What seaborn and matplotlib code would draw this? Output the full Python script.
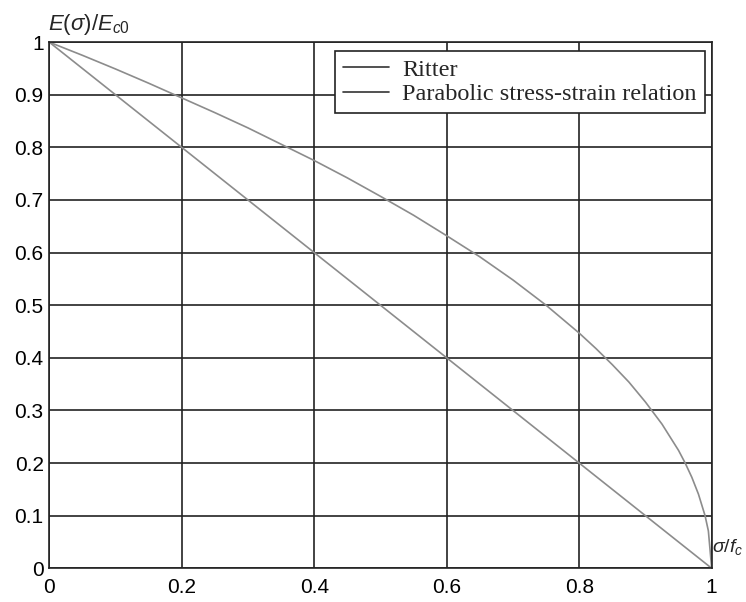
import pandas as pd
import matplotlib.pyplot as plt
import seaborn as sns
from matplotlib.lines import Line2D

# values
stress_ratio = [0, 0.05, 0.1, 0.15, 0.2, 0.25, 0.3, 0.35, 0.4, 0.45, 0.5,
                0.55, 0.6, 0.65, 0.7, 0.75, 0.8, 0.825, 0.85, 0.875, 0.9,
                0.925, 0.95, 0.96, 0.97, 0.98, 0.99, 0.995, 1.0]
ritter = [1, 0.95, 0.9, 0.85, 0.8, 0.75, 0.7, 0.65, 0.6, 0.55, 0.5,
          0.45, 0.4, 0.35, 0.3, 0.25, 0.2, 0.175, 0.15, 0.125, 0.1,
          0.075, 0.05, 0.04, 0.03, 0.02, 0.01, 0.005, 0.0]
parabolic = [1, 0.975, 0.949, 0.922, 0.894, 0.866, 0.837, 0.806, 0.775, 0.742, 0.707,
             0.671, 0.632, 0.592, 0.548, 0.5, 0.447, 0.418, 0.387, 0.354, 0.316,
             0.274, 0.224, 0.2, 0.173, 0.141, 0.1, 0.071, 0.0]

df = pd.DataFrame({'x': stress_ratio, 'Ritter': ritter,
                   'Parabolic stress-strain relation': parabolic})
df_long = df.melt(id_vars='x', var_name='model', value_name='y')

sns.set_style('white')
plt.rcParams['font.family'] = ['Liberation Sans', 'DejaVu Sans']
plt.rcParams['mathtext.fontset'] = 'custom'
plt.rcParams['mathtext.rm'] = 'Liberation Sans'
plt.rcParams['mathtext.it'] = 'Liberation Sans:italic'

fig = plt.figure(figsize=(7.46, 6.02), dpi=100, facecolor='white')
ax = fig.add_axes([0.066, 0.056, 0.888, 0.874])

sns.lineplot(data=df_long, x='x', y='y', hue='model', sort=False,
             palette=['#8c8c8c', '#8c8c8c'], linewidth=1.2, ax=ax, legend=False)

ax.set_xlim(0, 1)
ax.set_ylim(0, 1)
ax.set_xticks([0, 0.2, 0.4, 0.6, 0.8, 1])
ax.set_xticklabels(['0', '0.2', '0.4', '0.6', '0.8', '1'])
ax.set_yticks([i / 10 for i in range(11)])
ax.set_yticklabels(['0'] + [f'{i / 10:.1f}' for i in range(1, 10)] + ['1'])
ax.tick_params(direction='in', length=3, labelsize=15, colors='black')
ax.tick_params(axis='x', pad=7)
ax.tick_params(axis='y', pad=4)
ax.grid(True, color='#222222', linewidth=1.2)
for s in ax.spines.values():
    s.set_color('#222222')
    s.set_linewidth(1.2)
ax.set_xlabel('')
ax.set_ylabel('')

# axis labels placed like in the original figure
ax.text(-0.002, 1.01, r'$E(\sigma)/E_{c0}$', transform=ax.transAxes,
        fontsize=16, ha='left', va='bottom')
ax.text(1.0, 0.04, r'$\sigma/f_c$', transform=ax.transAxes,
        fontsize=14, ha='left', va='center')

# legend with dark sample lines, serif text
handles = [Line2D([], [], color='#333333', linewidth=1.2),
           Line2D([], [], color='#333333', linewidth=1.2)]
leg = ax.legend(handles, ['Ritter', 'Parabolic stress-strain relation'],
                loc='upper right', bbox_to_anchor=(0.9894, 0.983), borderaxespad=0,
                prop={'family': 'Liberation Serif', 'size': 17.5},
                fancybox=False, framealpha=1, edgecolor='#222222',
                handlelength=1.9, handletextpad=0.55, borderpad=0.32,
                labelspacing=0.1)
leg.get_frame().set_linewidth(1.2)

plt.savefig('out.png', dpi=100, facecolor='white')
